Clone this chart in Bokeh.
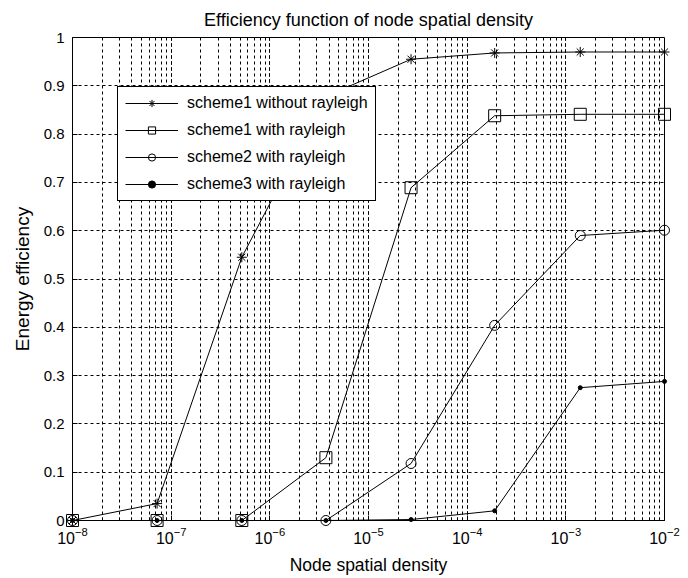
from bokeh.plotting import figure
from bokeh.models import (Range1d, CustomJSTickFormatter, FixedTicker, Legend,
                          LegendItem, LogTicker)
from bokeh.embed import file_html
from bokeh.resources import INLINE

# ---- data ----
density = [1e-8, 7.2e-8, 5.2e-7, 3.7e-6, 2.7e-5, 1.9e-4, 1.4e-3, 1e-2]
s1_without = [0.0, 0.035, 0.545, 0.878, 0.955, 0.968, 0.970, 0.970]
s1_with = [0.0, 0.0, 0.0, 0.130, 0.689, 0.838, 0.841, 0.841]
s2_with = [0.0, 0.0, 0.0, 0.0, 0.118, 0.404, 0.590, 0.601]
s3_with = [0.0, 0.0, 0.0, 0.0, 0.002, 0.020, 0.275, 0.288]
labels = ["scheme1 without rayleigh", "scheme1 with rayleigh",
          "scheme2 with rayleigh", "scheme3 with rayleigh"]
y_ticks = [0, 0.1, 0.2, 0.3, 0.4, 0.5, 0.6, 0.7, 0.8, 0.9, 1.0]
title_text = "Efficiency function of node spatial density"

FONT = "Liberation Sans"

p = figure(width=688, height=578, x_axis_type="log",
           x_range=Range1d(1e-8, 1e-2), y_range=Range1d(0, 1),
           output_backend="svg", toolbar_location=None, title=title_text)
p.min_border_left = 72
p.min_border_right = 24
p.min_border_top = 0
p.min_border_bottom = 58
p.background_fill_color = "white"
p.border_fill_color = "white"
p.outline_line_color = "black"
p.outline_line_width = 1
p.outline_line_alpha = 1

p.title.text_font = FONT
p.title.text_font_size = "18px"
p.title.text_font_style = "normal"
p.title.align = "center"
p.title.text_color = "black"
p.title.standoff = 15

# axes
for ax in (p.xaxis[0], p.yaxis[0]):
    ax.axis_line_color = "black"
    ax.major_tick_in = 5
    ax.major_tick_out = 0
    ax.minor_tick_in = 3
    ax.minor_tick_out = 0
    ax.major_label_text_font = FONT
    ax.major_label_text_font_size = "15px"
    ax.major_label_text_color = "black"
    ax.axis_label_text_font = FONT
    ax.axis_label_text_font_style = "normal"
    ax.axis_label_text_color = "black"

p.xaxis.axis_label = "Node spatial density"
p.yaxis.axis_label = "Energy efficiency"
p.xaxis.axis_label_text_font_size = "17.5px"
p.yaxis.axis_label_text_font_size = "19px"
p.xaxis.major_label_text_font_size = "16px"
p.xaxis.ticker = LogTicker(num_minor_ticks=10, desired_num_ticks=7)
p.yaxis.ticker = FixedTicker(ticks=y_ticks)
p.yaxis.minor_tick_in = 0
p.yaxis.formatter = CustomJSTickFormatter(
    code="return tick.toFixed(1).replace(/\\.0$/, '');")
p.yaxis.major_label_standoff = 8
p.yaxis.axis_label_standoff = 8
p.xaxis.major_label_standoff = 6
p.xaxis.axis_label_standoff = 8

# grids
p.xgrid.grid_line_color = "black"
p.xgrid.grid_line_dash = "3 3"
p.xgrid.grid_line_width = 1
p.xgrid.minor_grid_line_color = "black"
p.xgrid.minor_grid_line_dash = "3 3"
p.xgrid.minor_grid_line_width = 1
p.ygrid.grid_line_color = "black"
p.ygrid.grid_line_dash = "3 3"
p.ygrid.grid_line_width = 1

# series
series = [
    (s1_without, "asterisk", 10, None),
    (s1_with, "square", 12, None),
    (s2_with, "circle", 10, None),
    (s3_with, "circle", 4, "black"),
]
items = []
for (ys, marker, size, fill), lab in zip(series, labels):
    r1 = p.line(density, ys, line_color="black", line_width=1)
    r2 = p.scatter(density, ys, marker=marker, size=size,
                   line_color="black", line_width=1,
                   fill_color=fill, fill_alpha=1 if fill else 0,
                   level="annotation")
    items.append(LegendItem(label=lab, renderers=[r1, r2]))

legend = Legend(items=items, location=(45, 319))
legend.label_text_font = FONT
legend.label_text_font_size = "16px"
legend.label_text_color = "black"
legend.border_line_color = "black"
legend.border_line_width = 1
legend.border_line_alpha = 1
legend.background_fill_color = "white"
legend.background_fill_alpha = 1
legend.glyph_width = 53
legend.glyph_height = 18
legend.label_height = 18
legend.spacing = 9
legend.padding = 7
legend.margin = 0
legend.label_standoff = 9
p.add_layout(legend, "center")

open("out.html", "w").write(file_html(p, INLINE))
